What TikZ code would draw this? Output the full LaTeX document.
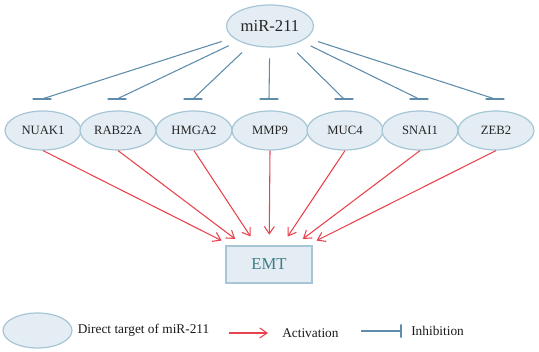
\documentclass[tikz,border=0pt]{standalone}
\usepackage{fontspec}
\setmainfont{Liberation Serif}
\usepackage{xcolor}
\usetikzlibrary{arrows.meta,shapes.geometric,positioning}

\definecolor{tgtfill}{HTML}{E3EDF3}
\definecolor{tgtdraw}{HTML}{A6C6D6}
\definecolor{inhblue}{HTML}{5E8CAA}
\definecolor{actred}{HTML}{E8424F}
\definecolor{emttext}{HTML}{3E7B88}

\begin{document}
\begin{tikzpicture}[
  x=0.75pt, y=0.75pt,
  target/.style={ellipse, draw=tgtdraw, fill=tgtfill, line width=0.9pt, minimum width=57pt, minimum height=29.25pt, inner sep=0pt, text=black!85, font=\fontsize{9.5}{10}\selectfont},
  mirna/.style={target, minimum width=65.25pt, minimum height=31.5pt, font=\fontsize{12.5}{14}\selectfont},
  outcome/.style={draw=tgtdraw, fill=tgtfill, line width=0.9pt, minimum width=64.5pt, minimum height=27.75pt, inner sep=0pt, text=emttext, font=\fontsize{12.5}{14}\selectfont},
  act/.style={-{Straight Barb[length=5.5pt,width=7.5pt]}, line width=0.8pt, color=actred},
  inh/.style={line width=0.8pt, color=inhblue},
  inhbar/.style={draw=inhblue, line width=0.8pt, minimum width=14pt, minimum height=0pt, inner sep=0pt, outer sep=0pt},
  lgd/.style={font=\fontsize{10}{12}\selectfont, inner sep=0pt, text=black!90}
]
  \useasboundingbox (0,0) rectangle (539,352);

  % microRNA (top)
  \node[mirna] (miR) at (270,326) {miR-211};

  % direct targets (middle row)
  \node[target] (NUAK1)  at (43,221.5)  {NUAK1};
  \node[target] (RAB22A) at (118,221.5) {RAB22A};
  \node[target] (HMGA2)  at (194,221.5) {HMGA2};
  \node[target] (MMP9)   at (270,221.5) {MMP9};
  \node[target] (MUC4)   at (345,221.5) {MUC4};
  \node[target] (SNAI1)  at (420,221.5) {SNAI1};
  \node[target] (ZEB2)   at (496,221.5) {ZEB2};

  % outcome (bottom)
  \node[outcome] (EMT) at (269,87.5) {EMT};

  % flat inhibition bars just above each target
  \node[inhbar] (bNUAK1)  at (42,253)  {};
  \node[inhbar] (bRAB22A) at (117,253) {};
  \node[inhbar] (bHMGA2)  at (193,253) {};
  \node[inhbar] (bMMP9)   at (269,253) {};
  \node[inhbar] (bMUC4)   at (344,253) {};
  \node[inhbar] (bSNAI1)  at (419,253) {};
  \node[inhbar] (bZEB2)   at (495,253) {};

  % miR-211 inhibits its targets
  \draw[inh, shorten <=9pt] (miR) -- (bNUAK1);
  \draw[inh, shorten <=8pt] (miR) -- (bRAB22A);
  \draw[inh, shorten <=8pt] (miR) -- (bHMGA2);
  \draw[inh, shorten <=8pt] (miR) -- (bMMP9);
  \draw[inh, shorten <=8pt] (miR) -- (bMUC4);
  \draw[inh, shorten <=8pt] (miR) -- (bSNAI1);
  \draw[inh, shorten <=9pt] (miR) -- (bZEB2);

  % targets activate EMT
  \draw[act, shorten >=8pt] (NUAK1.south)  -- (EMT);
  \draw[act, shorten >=8pt] (RAB22A.south) -- (EMT);
  \draw[act, shorten >=8pt] (HMGA2.south)  -- (EMT);
  \draw[act, shorten >=8pt] (MMP9.south)   -- (EMT);
  \draw[act, shorten >=8pt] (MUC4.south)   -- (EMT);
  \draw[act, shorten >=8pt] (SNAI1.south)  -- (EMT);
  \draw[act, shorten >=8pt] (ZEB2.south)   -- (EMT);

  % Legend (bottom row)
  \node[target, minimum width=51.75pt, minimum height=26.25pt] (lgdTarget) at (37.5,21.5) {};
  \node[lgd, right=3.75pt of lgdTarget] (lgdTargetTxt) {Direct target of miR-211};
  \coordinate (lgdActA) at (229,19);
  \coordinate (lgdActB) at (268,19);
  \draw[act] (lgdActA) -- (lgdActB);
  \node[lgd, right=10.5pt of lgdActB] (lgdActTxt) {Activation};
  \coordinate (lgdInhA) at (361,21);
  \node[inhbar, minimum width=0pt, minimum height=10pt] (lgdInhB) at (401,21) {};
  \draw[inh] (lgdInhA) -- (lgdInhB);
  \node[lgd, right=7.5pt of lgdInhB] (lgdInhTxt) {Inhibition};
\end{tikzpicture}
\end{document}
